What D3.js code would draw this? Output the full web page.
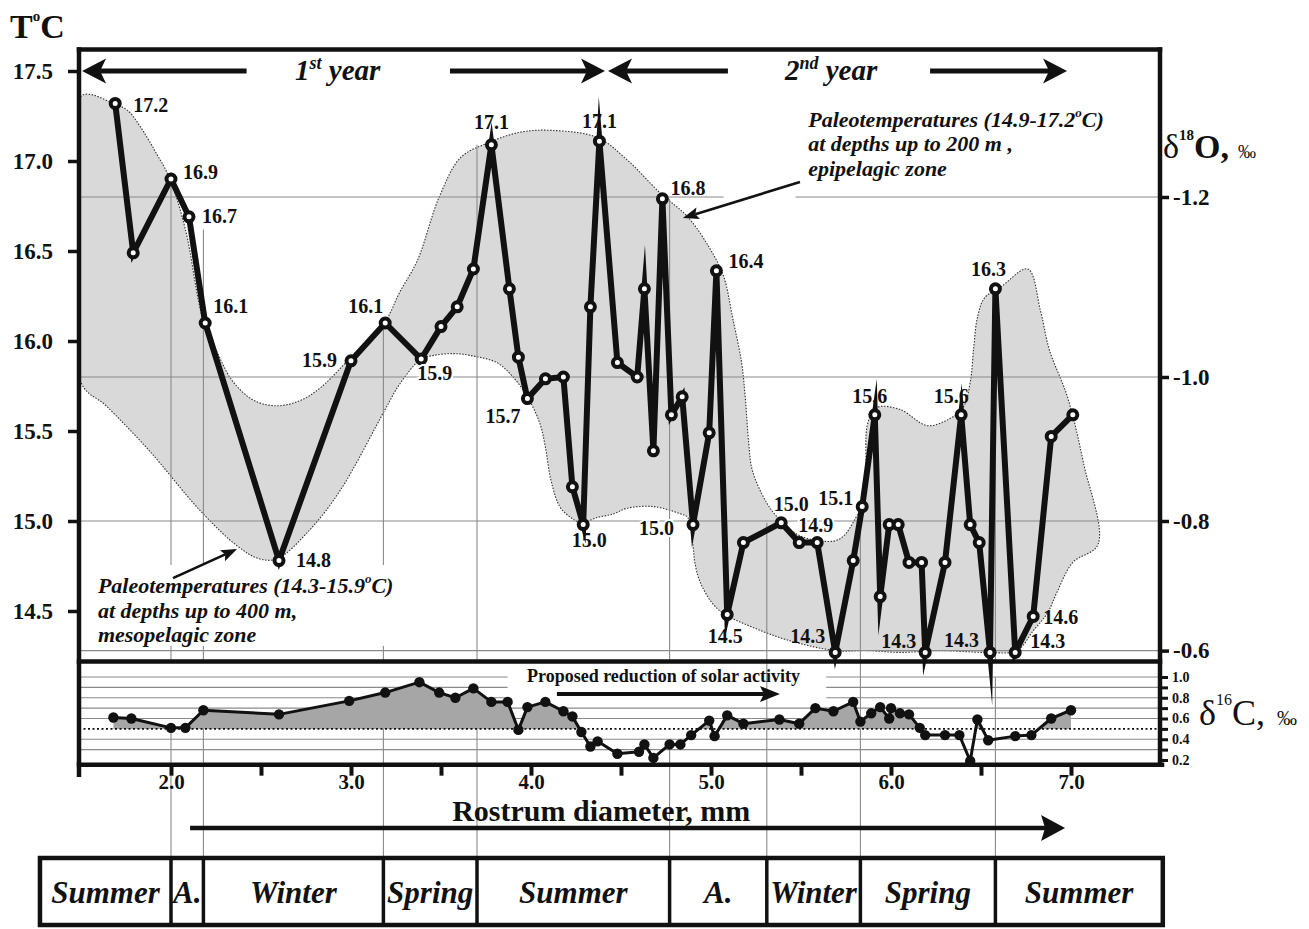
<!DOCTYPE html>
<html><head><meta charset="utf-8">
<script src="https://cdn.jsdelivr.net/npm/d3@7"></script>
<style>
html,body{margin:0;padding:0;background:#fff;}
svg{display:block;}
</style></head><body>
<svg id="chart" width="1309" height="929"></svg>
<script>
// ================= DATA =================
// Rostrum diameter (mm) and paleotemperature (°C) of each sample
const tempX = [1.69,1.79,2.00,2.10,2.19,2.60,3.00,3.19,3.39,3.50,3.59,3.68,3.78,3.88,3.93,3.98,4.08,4.18,4.23,4.29,4.33,4.38,4.48,4.59,4.63,4.68,4.73,4.78,4.84,4.90,4.99,5.03,5.09,5.18,5.39,5.49,5.59,5.69,5.79,5.84,5.91,5.94,5.99,6.04,6.10,6.17,6.19,6.30,6.39,6.44,6.49,6.55,6.58,6.69,6.79,6.89,7.01];
const tempY = [17.32,16.49,16.90,16.69,16.10,14.78,15.89,16.10,15.90,16.08,16.19,16.40,17.09,16.29,15.91,15.68,15.79,15.80,15.19,14.98,16.19,17.11,15.88,15.80,16.29,15.39,16.79,15.59,15.69,14.98,15.49,16.39,14.48,14.88,14.99,14.88,14.88,14.27,14.78,15.08,15.59,14.58,14.98,14.98,14.77,14.77,14.27,14.77,15.59,14.98,14.88,14.27,16.29,14.27,14.47,15.47,15.59];

// printed value labels (index into the series, text, placement)
const tempLabels = [
  {i:0,t:"17.2",a:"start",dx:18,dy:9},
  {i:2,t:"16.9",a:"start",dx:12,dy:0},
  {i:3,t:"16.7",a:"start",dx:13,dy:6},
  {i:4,t:"16.1",a:"start",dx:8,dy:-10},
  {i:5,t:"14.8",a:"start",dx:17,dy:6},
  {i:6,t:"15.9",a:"end",dx:-14,dy:6},
  {i:7,t:"16.1",a:"end",dx:-2,dy:-10},
  {i:8,t:"15.9",a:"start",dx:-4,dy:21,halo:true},
  {i:12,t:"17.1",a:"middle",dx:0,dy:-16},
  {i:15,t:"15.7",a:"end",dx:-7,dy:24},
  {i:19,t:"15.0",a:"middle",dx:6,dy:22},
  {i:21,t:"17.1",a:"middle",dx:0,dy:-13},
  {i:26,t:"16.8",a:"start",dx:8,dy:-4},
  {i:29,t:"15.0",a:"end",dx:-19,dy:10,halo:true},
  {i:31,t:"16.4",a:"start",dx:12,dy:-3},
  {i:32,t:"14.5",a:"middle",dx:-2,dy:28},
  {i:34,t:"15.0",a:"middle",dx:10,dy:-12},
  {i:35,t:"14.9",a:"start",dx:-1,dy:-11,halo:true},
  {i:37,t:"14.3",a:"end",dx:-10,dy:-9},
  {i:39,t:"15.1",a:"end",dx:-9,dy:-2},
  {i:40,t:"15.6",a:"middle",dx:-5,dy:-12},
  {i:46,t:"14.3",a:"end",dx:-9,dy:-4},
  {i:48,t:"15.6",a:"middle",dx:-10,dy:-12},
  {i:51,t:"14.3",a:"end",dx:-11,dy:-5},
  {i:52,t:"16.3",a:"middle",dx:-7,dy:-13},
  {i:53,t:"14.3",a:"start",dx:15,dy:-4},
  {i:54,t:"14.6",a:"start",dx:10,dy:8}
];

// Paleotemperature envelope (mm, °C): upper edge left->right, lower edge right->left
const envUpper = [[1.50,17.36],[1.68,17.32],[1.76,17.28],[1.83,17.19],[1.92,17.04],[1.99,16.91],[2.08,16.62],[2.18,16.11],[2.26,15.93],[2.34,15.78],[2.46,15.67],[2.59,15.64],[2.72,15.67],[2.83,15.74],[2.99,15.90],[3.19,16.11],[3.27,16.27],[3.37,16.45],[3.49,16.80],[3.61,17.02],[3.76,17.10],[3.94,17.16],[4.12,17.17],[4.37,17.13],[4.53,17.01],[4.72,16.82],[4.87,16.69],[4.99,16.52],[5.07,16.36],[5.12,16.13],[5.17,15.88],[5.19,15.69],[5.21,15.43],[5.23,15.28],[5.31,15.10],[5.38,15.01],[5.49,14.92],[5.61,14.89],[5.69,14.89],[5.74,14.92],[5.80,15.01],[5.84,15.09],[5.86,15.23],[5.87,15.54],[5.92,15.63],[6.05,15.62],[6.20,15.53],[6.31,15.56],[6.40,15.63],[6.44,15.77],[6.46,15.97],[6.48,16.13],[6.52,16.24],[6.61,16.30],[6.76,16.40],[6.83,16.17],[6.88,15.95],[6.98,15.69],[7.07,15.32],[7.15,14.87]];
const envLower = [[7.01,14.77],[6.92,14.60],[6.87,14.49],[6.79,14.39],[6.70,14.28],[6.53,14.27],[6.27,14.28],[6.05,14.27],[5.87,14.28],[5.69,14.28],[5.42,14.34],[5.23,14.41],[5.08,14.48],[5.01,14.54],[4.94,14.66],[4.91,14.77],[4.90,14.86],[4.87,15.02],[4.83,15.04],[4.68,15.08],[4.53,15.07],[4.46,15.04],[4.37,15.02],[4.28,14.99],[4.22,15.02],[4.16,15.08],[4.11,15.23],[4.08,15.41],[4.05,15.54],[3.98,15.69],[3.90,15.80],[3.81,15.88],[3.66,15.92],[3.57,15.93],[3.46,15.92],[3.39,15.90],[3.27,15.76],[3.19,15.62],[2.94,15.17],[2.77,14.95],[2.59,14.79],[2.49,14.79],[2.37,14.86],[2.16,15.06],[1.88,15.39],[1.64,15.64],[1.50,15.77]];

// Carbon isotope series (lower panel)
const carbonX = [1.68,1.78,2.00,2.08,2.18,2.60,2.99,3.19,3.38,3.49,3.58,3.68,3.78,3.87,3.93,3.98,4.08,4.18,4.23,4.28,4.33,4.37,4.48,4.60,4.63,4.68,4.77,4.83,4.89,4.99,5.02,5.09,5.18,5.38,5.49,5.58,5.68,5.79,5.83,5.89,5.94,5.99,6.00,6.05,6.10,6.16,6.19,6.30,6.38,6.44,6.48,6.54,6.69,6.78,6.89,7.00];
const carbonY = [0.61,0.60,0.51,0.51,0.68,0.64,0.77,0.85,0.95,0.85,0.80,0.89,0.76,0.76,0.49,0.71,0.76,0.67,0.62,0.47,0.33,0.38,0.26,0.28,0.35,0.22,0.35,0.35,0.44,0.58,0.43,0.63,0.55,0.59,0.55,0.70,0.67,0.76,0.57,0.65,0.71,0.60,0.70,0.65,0.64,0.51,0.44,0.44,0.44,0.19,0.59,0.39,0.43,0.44,0.60,0.68];
const carbonBase = 0.5;

// Axis ticks
const tempTicks = [14.5,15.0,15.5,16.0,16.5,17.0,17.5];
const d18OTicks = [-1.2,-1.0,-0.8,-0.6];
const d18OTempEquiv = [16.8,15.8,15.0,14.28];   // temperature at which each δ18O tick sits
const carbonTicks = [0.2,0.3,0.4,0.5,0.6,0.7,0.8,0.9,1.0];
const carbonGrid = [0.3,0.4,0.6,0.7,0.8,0.9,1.0];
const diamTicks = [2.0,2.5,3.0,3.5,4.0,4.5,5.0,5.5,6.0,6.5,7.0];

// Seasons
const seasons = ["Summer","A.","Winter","Spring","Summer","A.","Winter","Spring","Summer"];
const seasonEdges = [1.272,2.0,2.18,3.18,3.70,4.77,5.31,5.83,6.58,7.51];
const boundTopStart = [16.9,16.62,16.1,17.09,16.79,14.99,15.08,16.29];   // °C where each boundary line starts
const boundLowStart = [0.51,0.68,0.85,0.89,0.35,1.16,1.16,1.0];          // δ value where it starts in lower panel

// ================= DRAW =================
const SERIF = '"Liberation Serif","Times New Roman",Times,serif';
const INK = "#111";
const GRID = "#8a8a8a";
const svg = d3.select("#chart").attr("font-family", SERIF);

const x  = d3.scaleLinear().domain([1.5, 7.5]).range([81, 1161]);
const yT = d3.scaleLinear().domain([14.5, 17.5]).range([611, 71]);
const yC = d3.scaleLinear().domain([0.2, 1.0]).range([760, 677]);
const yO = d3.scaleLinear().domain(d18OTicks).range(d18OTempEquiv.map(yT));

const FR = {left: x(1.5) - 2, right: x(7.5) - 1, top: yT(17.62), mid: yT(14.22), bottom: yC(0.155)};
const LAY = {rostrumY: 821, arrowY: 828, tableTop: 858, tableBottom: 925, tableTextY: 903};

const defs = svg.append("defs");
defs.append("clipPath").attr("id","clipTop").append("rect")
  .attr("x",FR.left).attr("y",FR.top).attr("width",FR.right-FR.left).attr("height",FR.mid-FR.top);
defs.append("clipPath").attr("id","clipAbove").append("rect")
  .attr("x",FR.left).attr("y",FR.mid).attr("width",FR.right-FR.left).attr("height",yC(carbonBase)-FR.mid);

function arrow(g, x1, y1, x2, y2, o) {
  const w = o.w, len = o.len, hw = o.hw, notch = o.notch;
  const ang = Math.atan2(y2 - y1, x2 - x1);
  const bx = x2 - Math.cos(ang) * (len - notch), by = y2 - Math.sin(ang) * (len - notch);
  g.append("line").attr("x1",x1).attr("y1",y1).attr("x2",bx).attr("y2",by)
    .attr("stroke",INK).attr("stroke-width",w);
  g.append("path").attr("d",`M0,0 L${-len},${-hw} L${-len+notch},0 L${-len},${hw} Z`)
    .attr("transform",`translate(${x2},${y2}) rotate(${ang*180/Math.PI})`).attr("fill",INK);
}

// ---- envelope fill ----
const envPts = envUpper.concat(envLower);
const envLine = d3.line().x(d => x(d[0])).y(d => yT(d[1])).curve(d3.curveCatmullRomClosed.alpha(0.5));
const gEnv = svg.append("g").attr("clip-path","url(#clipTop)");
gEnv.append("path").attr("d", envLine(envPts)).attr("fill","#d9d9d9").attr("stroke","none");

// ---- vertical season boundary lines ----
const gGrid = svg.append("g").attr("stroke",GRID).attr("stroke-width",1.1);
seasonEdges.slice(1,-1).forEach((b,i) => {
  gGrid.append("line").attr("x1",x(b)).attr("x2",x(b)).attr("y1",yT(boundTopStart[i])).attr("y2",FR.mid);
  gGrid.append("line").attr("x1",x(b)).attr("x2",x(b)).attr("y1",Math.max(FR.mid, yC(boundLowStart[i]))).attr("y2",LAY.tableTop);
});

// white box behind lower-left annotation
svg.append("rect").attr("x",95).attr("y",565).attr("width",305).attr("height",81).attr("fill","#fff");

// ---- horizontal δ18O grid lines (top panel) ----
const annotGap = [5.07, 5.47];   // gap in the -1.2 line where the annotation arrow sits
d18OTicks.forEach(v => {
  const yy = yO(v);
  if (v === -1.2) {
    gGrid.append("line").attr("x1",FR.left).attr("x2",x(annotGap[0])).attr("y1",yy).attr("y2",yy);
    gGrid.append("line").attr("x1",x(annotGap[1])).attr("x2",FR.right).attr("y1",yy).attr("y2",yy);
  } else {
    gGrid.append("line").attr("x1",FR.left).attr("x2",FR.right).attr("y1",yy).attr("y2",yy);
  }
});

// ---- envelope outline ----
gEnv.append("path").attr("d", envLine(envPts)).attr("fill","none")
  .attr("stroke","#333").attr("stroke-width",1.1).attr("stroke-dasharray","1.5,1.5");

// ---- lower panel grid ----
const textGap = [3.87, 5.64];
carbonGrid.forEach(v => {
  const yy = yC(v);
  if (v >= 0.8) {
    gGrid.append("line").attr("x1",FR.left).attr("x2",x(textGap[0])).attr("y1",yy).attr("y2",yy);
    gGrid.append("line").attr("x1",x(textGap[1])).attr("x2",FR.right).attr("y1",yy).attr("y2",yy);
  } else {
    gGrid.append("line").attr("x1",FR.left).attr("x2",FR.right).attr("y1",yy).attr("y2",yy);
  }
});

// ---- lower panel series ----
const carbon = carbonX.map((v,i) => [v, carbonY[i]]);
svg.append("path").attr("clip-path","url(#clipAbove)")
  .attr("d", d3.area().x(d => x(d[0])).y0(yC(carbonBase)).y1(d => yC(d[1]))(carbon))
  .attr("fill","#a6a6a6");
svg.append("line").attr("x1",FR.left).attr("x2",FR.right).attr("y1",yC(carbonBase)).attr("y2",yC(carbonBase))
  .attr("stroke",INK).attr("stroke-width",1.8).attr("stroke-dasharray","2,2.5");
svg.append("path").attr("d", d3.line().x(d => x(d[0])).y(d => yC(d[1]))(carbon))
  .attr("fill","none").attr("stroke",INK).attr("stroke-width",3).attr("stroke-linejoin","round");
svg.append("g").selectAll("circle").data(carbon).join("circle")
  .attr("cx",d => x(d[0])).attr("cy",d => yC(d[1])).attr("r",5.2).attr("fill",INK);

// ---- temperature series ----
const temp = tempX.map((v,i) => [v, tempY[i]]);
svg.append("path").attr("d", d3.line().x(d => x(d[0])).y(d => yT(d[1]))(temp))
  .attr("fill","none").attr("stroke",INK).attr("stroke-width",6)
  .attr("stroke-linejoin","miter").attr("stroke-miterlimit",20);
svg.append("g").selectAll("circle").data(temp).join("circle")
  .attr("cx",d => x(d[0])).attr("cy",d => yT(d[1])).attr("r",4.5)
  .attr("fill","#fff").attr("stroke",INK).attr("stroke-width",4);

// value labels
svg.append("g").selectAll("text").data(tempLabels).join("text")
  .attr("x",d => x(tempX[d.i]) + d.dx).attr("y",d => yT(tempY[d.i]) + d.dy)
  .attr("text-anchor",d => d.a).attr("font-size",20).attr("font-weight","bold").attr("fill",INK)
  .attr("stroke",d => d.halo ? "#fff" : "none").attr("stroke-width",4).attr("paint-order","stroke")
  .text(d => d.t);

// ---- frame ----
const gF = svg.append("g").attr("stroke",INK).attr("stroke-linecap","square");
gF.append("line").attr("x1",FR.left).attr("x2",FR.right).attr("y1",FR.top).attr("y2",FR.top).attr("stroke-width",4.5);
gF.append("line").attr("x1",FR.left).attr("x2",FR.left).attr("y1",FR.top).attr("y2",FR.bottom+10).attr("stroke-width",4.5);
gF.append("line").attr("x1",FR.right).attr("x2",FR.right).attr("y1",FR.top).attr("y2",FR.bottom).attr("stroke-width",4.5);
gF.append("line").attr("x1",FR.left).attr("x2",FR.right).attr("y1",FR.mid).attr("y2",FR.mid).attr("stroke-width",4.5);
gF.append("line").attr("x1",FR.left).attr("x2",FR.right+2).attr("y1",FR.bottom).attr("y2",FR.bottom).attr("stroke-width",4.5);

// ---- axes ----
function styleAxis(g, size, lw) {
  g.select(".domain").remove();
  g.selectAll(".tick line").attr("stroke",INK).attr("stroke-width",lw);
  g.selectAll(".tick text").attr("font-family",SERIF).attr("font-weight","bold").attr("font-size",size).attr("fill",INK);
}
const fmt1 = d => d.toFixed(1);
styleAxis(svg.append("g").attr("transform",`translate(${FR.left},0)`)
  .call(d3.axisLeft(yT).tickValues(tempTicks).tickSize(11).tickPadding(15).tickFormat(fmt1)), 23, 3.5);
styleAxis(svg.append("g").attr("transform",`translate(${FR.right},0)`)
  .call(d3.axisRight(yO).tickValues(d18OTicks).tickSize(9).tickPadding(4).tickFormat(fmt1)), 23, 3.5);
styleAxis(svg.append("g").attr("transform",`translate(${FR.right},0)`)
  .call(d3.axisRight(yC).tickValues(carbonTicks).tickSize(8).tickPadding(4)
    .tickFormat(d => Math.round(d*10) % 2 === 0 ? d.toFixed(1) : "")), 14, 3);
styleAxis(svg.append("g").attr("transform",`translate(0,${FR.bottom})`)
  .call(d3.axisBottom(x).tickValues(diamTicks).tickSize(11).tickPadding(-2)
    .tickFormat(d => Number.isInteger(d) ? d.toFixed(1) : "")), 21, 4);

// ---- axis titles ----
const tT = svg.append("text").attr("x",10).attr("y",38).attr("font-weight","bold").attr("fill",INK);
tT.append("tspan").attr("font-size",34).text("T");
tT.append("tspan").attr("font-size",15).attr("dy",-17).text("o");
tT.append("tspan").attr("font-size",34).attr("dy",17).text("C");

const tO = svg.append("text").attr("x",1163).attr("y",158).attr("fill",INK);
tO.append("tspan").attr("font-size",34).text("δ");
tO.append("tspan").attr("font-size",15).attr("font-weight","bold").attr("dy",-18).text("18");
tO.append("tspan").attr("font-size",34).attr("font-weight","bold").attr("dy",18).text("O,");
tO.append("tspan").attr("font-size",18).attr("dx",9).text("‰");

const tC = svg.append("text").attr("x",1199).attr("y",725).attr("fill",INK);
tC.append("tspan").attr("font-size",36).text("δ");
tC.append("tspan").attr("font-size",16).attr("dy",-20).text("16");
tC.append("tspan").attr("font-size",36).attr("dy",20).text("C,");
tC.append("tspan").attr("font-size",20).attr("dx",12).text("‰");

svg.append("text").attr("x",x(4.39)).attr("y",LAY.rostrumY).attr("text-anchor","middle")
  .attr("font-size",30).attr("font-weight","bold").attr("fill",INK).text("Rostrum diameter, mm");
const gA = svg.append("g");
arrow(gA, x(2.106), LAY.arrowY, x(6.967), LAY.arrowY, {w:4.5, len:24, hw:13, notch:4});

// ---- year arrows ----
const yearArrows = [[2.42,1.506],[3.55,4.411],[5.094,4.428],[6.217,6.978]];
yearArrows.forEach(a => arrow(gA, x(a[0]), yT(17.5), x(a[1]), yT(17.5), {w:5, len:24, hw:12.5, notch:6}));
function yearText(xx, num, sup) {
  const t = svg.append("text").attr("x",x(xx)).attr("y",yT(17.5)+9).attr("font-size",29)
    .attr("font-weight","bold").attr("font-style","italic").attr("fill",INK);
  t.append("tspan").text(num);
  t.append("tspan").attr("font-size",18).attr("dy",-11).text(sup);
  t.append("tspan").attr("dy",11).text(" year");
}
yearText(2.689, "1", "st");
yearText(5.411, "2", "nd");

// ---- annotations ----
function annot(xx, T, lines) {
  const t = svg.append("text").attr("x",x(xx)).attr("y",yT(T)).attr("font-size",22)
    .attr("font-weight","bold").attr("font-style","italic").attr("fill",INK);
  lines.forEach((ln,k) => {
    const ts = t.append("tspan").attr("x",x(xx)).attr("dy", k === 0 ? 0 : 24.5);
    if (Array.isArray(ln)) {
      ts.text(ln[0]);
      t.append("tspan").attr("font-size",13).attr("dy",-10).text("o");
      t.append("tspan").attr("dy",10).text(ln[1]);
    } else ts.text(ln);
  });
}
annot(5.54, 17.19, [["Paleotemperatures (14.9-17.2","C)"], "at depths up to 200 m ,", "epipelagic zone"]);
annot(1.594, 14.60, [["Paleotemperatures (14.3-15.9","C)"], "at depths  up to 400 m,", "mesopelagic zone"]);
arrow(gA, x(5.494), yT(16.883), x(4.844), yT(16.683), {w:2.6, len:16, hw:6, notch:3});
arrow(gA, x(2.011), yT(14.683), x(2.367), yT(14.844), {w:2.6, len:16, hw:6, notch:3});

// solar activity note
svg.append("text").attr("x",x(3.978)).attr("y",yC(0.952)).attr("font-size",18).attr("font-weight","bold")
  .attr("fill",INK).text("Proposed reduction of solar activity");
arrow(gA, x(4.144), yC(0.836), x(5.383), yC(0.836), {w:4, len:20, hw:8, notch:4});

// ---- season table ----
const gS = svg.append("g");
gS.append("rect").attr("x",x(seasonEdges[0])).attr("y",LAY.tableTop)
  .attr("width",x(seasonEdges[seasonEdges.length-1]) - x(seasonEdges[0])).attr("height",LAY.tableBottom-LAY.tableTop)
  .attr("fill","none").attr("stroke",INK).attr("stroke-width",4.5);
seasonEdges.slice(1,-1).forEach(b => {
  gS.append("line").attr("x1",x(b)).attr("x2",x(b)).attr("y1",LAY.tableTop).attr("y2",LAY.tableBottom)
    .attr("stroke",INK).attr("stroke-width",3.5);
});
gS.selectAll("text.season").data(seasons).join("text").attr("class","season")
  .attr("x",(d,i) => (x(seasonEdges[i]) + x(seasonEdges[i+1])) / 2).attr("y",LAY.tableTextY)
  .attr("text-anchor","middle").attr("font-size",31).attr("font-weight","bold").attr("font-style","italic")
  .attr("fill",INK).text(d => d);
</script>
</body></html>
